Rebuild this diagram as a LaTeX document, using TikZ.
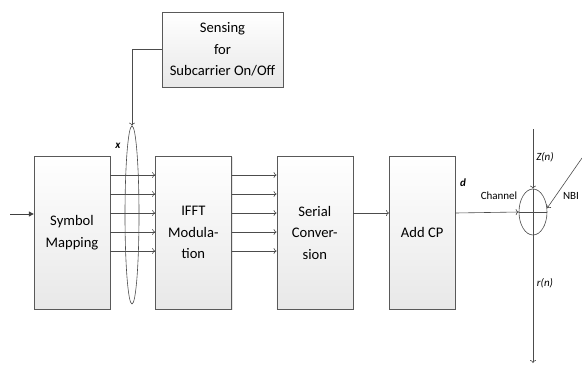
\documentclass[tikz,border=0pt]{standalone}
\usepackage{fontspec}
\setmainfont{Carlito}
\usetikzlibrary{positioning,arrows.meta,shadows,shapes.geometric}
\tikzset{
blk/.style={draw=black!65,top color=white,bottom color=black!9,align=center,inner sep=2pt,
  font=\fontsize{14.6}{21.5}\selectfont,drop shadow={shadow xshift=1.2pt,shadow yshift=-1.2pt,opacity=0.2}},
big/.style={blk,minimum width=76pt,minimum height=153pt},
sig/.style={draw=black!70,line width=0.6pt,-{To[length=3pt,width=6pt]}},
feed/.style={draw=black!75,line width=1pt,-{Triangle[length=5pt,width=5pt]}},
lbl/.style={font=\fontsize{11}{13}\selectfont,inner sep=1pt},
ring/.style={draw=black!70,line width=0.6pt,ellipse,inner sep=0pt}
}
\begin{document}
\begin{tikzpicture}[x=1pt,y=-1pt]
\useasboundingbox (0,0) rectangle (582,365);
% main chain
\node[big] (sm) at (72,232.5) {Symbol\\Mapping};
\node[big,right=45pt of sm] (ifft) {IFFT\\Modula-\\tion};
\node[big,right=45pt of ifft] (ser) {Serial\\Conver-\\sion};
\node[big,minimum width=66pt,right=36pt of ser] (acp) {Add CP};
\node[blk,minimum width=121pt,minimum height=75pt] (sen) at (222.5,49.5) {Sensing\\for\\Subcarrier On/Off};
% subcarrier bundle and adder
\node[ring,minimum width=14pt,minimum height=178pt] (bund) at (132,215) {};
\node[ring,minimum width=28pt,minimum height=46pt] (sum) at (533,212) {};
\draw[black!70,line width=0.6pt] (sum.west) -- (sum.east) (sum.north) -- (sum.south);
\coordinate (in) at (10,214);
\coordinate (ztop) at (533,129);
\coordinate (rout) at (533,363);
\coordinate (nbi) at (582,158);
% connectors
\draw[feed] (in) -- (sm.west |- in);
\foreach \y in {175,194,213,232,251}{
  \draw[sig] (sm.east |- 0,\y) -- (ifft.west |- 0,\y);
  \draw[sig] (ifft.east |- 0,\y) -- (ser.west |- 0,\y);
}
\draw[sig] (ser.east |- 0,213) -- (acp.west |- 0,213);
\draw[sig] (acp.east |- 0,213) -- (sum.west);
\draw[sig] (sen.west) -| (bund.north);
\draw[sig] (ztop) -- (sum.north);
\draw[sig] (sum.south) -- (rout);
\draw[sig] (nbi) -- (sum.15);
% labels
\node[lbl] (xlab) at (118,146) {\textbf{\textit{x}}};
\node[lbl] (dlab) at (463,183) {\textbf{\textit{d}}};
\node[lbl] (chlab) at (499,196) {Channel};
\node[lbl] (zlab) at (545,157) {\textit{Z(n)}};
\node[lbl] (rlab) at (545,283) {\textit{r(n)}};
\node[lbl] (nbilab) at (571,196) {NBI};
\end{tikzpicture}
\end{document}
